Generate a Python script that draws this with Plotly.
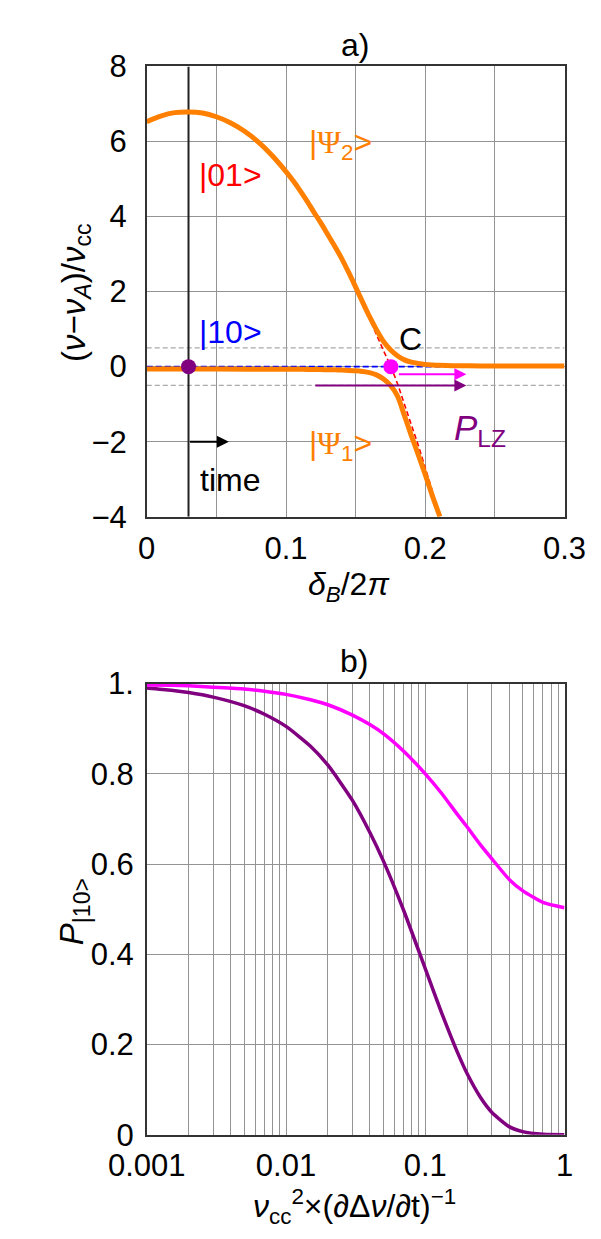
import plotly.graph_objects as go

# ---------------- Panel a data ----------------
psi2_x = [0, 0.01, 0.02, 0.03, 0.04, 0.05, 0.06, 0.07, 0.08, 0.09, 0.10, 0.105, 0.11, 0.115,
          0.12, 0.125, 0.13, 0.135, 0.14, 0.145, 0.15, 0.155, 0.16, 0.165, 0.17, 0.175, 0.18,
          0.185, 0.19, 0.195, 0.20, 0.205, 0.21, 0.22, 0.24, 0.27, 0.30]
psi2_y = [6.53, 6.68, 6.77, 6.79, 6.76, 6.66, 6.50, 6.28, 5.99, 5.63, 5.20, 4.96, 4.70, 4.42,
          4.12, 3.83, 3.52, 3.21, 2.88, 2.51, 2.12, 1.72, 1.33, 0.98, 0.67, 0.45, 0.29,
          0.18, 0.12, 0.085, 0.06, 0.045, 0.035, 0.025, 0.02, 0.02, 0.02]

psi1_x = [0, 0.05, 0.10, 0.105, 0.11, 0.115, 0.12, 0.125, 0.13, 0.135, 0.14, 0.145, 0.15,
          0.155, 0.16, 0.165, 0.17, 0.175, 0.18, 0.185, 0.19, 0.195, 0.20, 0.205, 0.2105]
psi1_y = [-0.06, -0.065, -0.07, -0.07, -0.072, -0.074, -0.076, -0.079, -0.082, -0.086, -0.092,
          -0.10, -0.11, -0.13, -0.16, -0.22, -0.33, -0.50, -0.78, -1.30, -1.84, -2.35, -2.88,
          -3.43, -4.0]

state01_x = [0.145, 0.15, 0.155, 0.16, 0.165, 0.17, 0.175, 0.18, 0.185, 0.19, 0.195, 0.20,
             0.205]
state01_y = [2.55, 2.15, 1.72, 1.28, 0.85, 0.43, 0.02, -0.45, -1.00, -1.55, -2.10, -2.70,
             -3.30]

state10_x = [0, 0.232]
state10_y = [0, 0]

band_x = [0, 0.3]
band_hi = [0.5, 0.5]
band_lo = [-0.5, -0.5]

t0_x = [0.03, 0.03]
t0_y = [-4, 8]

start_pt = (0.03, 0.0)
cross_pt = (0.1753, 0.0)

# arrows: (x_tail, x_head, y)
arrow_magenta = (0.18, 0.2295, -0.2)
arrow_purple = (0.12, 0.2295, -0.5)
arrow_time = (0.03, 0.059, -2.0)

# ---------------- Panel b data ----------------
pb_x = [0.001, 0.0015, 0.002, 0.003, 0.005, 0.007, 0.01, 0.015, 0.02, 0.03, 0.04, 0.05,
        0.07, 0.1, 0.13, 0.17, 0.2, 0.25, 0.3, 0.4, 0.5, 0.7, 1.0]
mag_y = [0.997, 0.996, 0.995, 0.992, 0.988, 0.983, 0.976, 0.964, 0.953, 0.930, 0.909, 0.889,
         0.850, 0.800, 0.758, 0.710, 0.682, 0.642, 0.612, 0.566, 0.541, 0.515, 0.503]
pur_y = [0.990, 0.985, 0.980, 0.970, 0.951, 0.932, 0.905, 0.861, 0.819, 0.741, 0.670, 0.607,
         0.497, 0.368, 0.273, 0.183, 0.135, 0.082, 0.050, 0.018, 0.007, 0.001, 0.0]

ORANGE = "rgb(255,128,0)"
PURPLE = "rgb(128,0,128)"
MAGENTA = "rgb(255,0,255)"
FONT = "Liberation Sans, Arial, sans-serif"
W, H = 601, 1239

fig = go.Figure()

# panel a traces
for yy in (band_hi, band_lo):
    fig.add_trace(go.Scatter(x=band_x, y=yy, mode="lines", xaxis="x", yaxis="y",
                             line=dict(color="#a8a8a8", width=1.2, dash="5px,3px")))
fig.add_trace(go.Scatter(x=t0_x, y=t0_y, mode="lines", xaxis="x", yaxis="y",
                         line=dict(color="#222222", width=2)))
fig.add_trace(go.Scatter(x=state10_x, y=state10_y, mode="lines", xaxis="x", yaxis="y",
                         line=dict(color="blue", width=1.8, dash="6px,3px")))
fig.add_trace(go.Scatter(x=state01_x, y=state01_y, mode="lines", xaxis="x", yaxis="y",
                         line=dict(color="red", width=1.6, dash="5px,3px", shape="spline")))
fig.add_trace(go.Scatter(x=psi2_x, y=psi2_y, mode="lines", xaxis="x", yaxis="y",
                         line=dict(color=ORANGE, width=5, shape="spline", smoothing=0.8)))
fig.add_trace(go.Scatter(x=psi1_x, y=psi1_y, mode="lines", xaxis="x", yaxis="y",
                         line=dict(color=ORANGE, width=5, shape="spline", smoothing=0.8)))
fig.add_trace(go.Scatter(x=[start_pt[0]], y=[start_pt[1]], mode="markers", xaxis="x", yaxis="y",
                         marker=dict(color=PURPLE, size=15)))
fig.add_trace(go.Scatter(x=[cross_pt[0]], y=[cross_pt[1]], mode="markers", xaxis="x", yaxis="y",
                         marker=dict(color=MAGENTA, size=15)))

# panel b traces
fig.add_trace(go.Scatter(x=pb_x, y=pur_y, mode="lines", xaxis="x2", yaxis="y2",
                         line=dict(color=PURPLE, width=3.5, shape="spline", smoothing=0.6)))
fig.add_trace(go.Scatter(x=pb_x, y=mag_y, mode="lines", xaxis="x2", yaxis="y2",
                         line=dict(color=MAGENTA, width=3.5, shape="spline", smoothing=0.6)))

GRID = "#939393"
xdom = [111 / W, 576 / W]
ydom_a = [1 - 506 / H, 1 - 42.7 / H]
ydom_b = [1 - 1142 / H, 1 - 677.7 / H]

axis_common = dict(showline=True, mirror=True, linecolor="#333333", linewidth=1.5,
                   gridcolor=GRID, gridwidth=1, zeroline=False, ticks="",
                   tickfont=dict(family=FONT, size=31, color="black"))

minor_b = []
for d in [0.001, 0.01, 0.1]:
    for k in range(2, 10):
        minor_b.append(round(k * d, 6))

fig.update_layout(
    width=W, height=H, showlegend=False,
    paper_bgcolor="white", plot_bgcolor="white",
    margin=dict(l=0, r=0, t=0, b=0),
    xaxis=dict(domain=xdom, anchor="y", range=[0, 0.3], tickvals=[0, 0.1, 0.2, 0.3],
               ticktext=["0", "0.1", "0.2", "0.3"], ticklabelstandoff=3,
               minor=dict(tickvals=[0.05, 0.15, 0.25], showgrid=True, gridcolor=GRID,
                          gridwidth=1, ticks=""),
               **axis_common),
    yaxis=dict(domain=ydom_a, anchor="x", range=[-4, 8], tickvals=[-4, -2, 0, 2, 4, 6, 8],
               ticklabelstandoff=12, **axis_common),
    xaxis2=dict(domain=xdom, anchor="y2", type="log", range=[-3, 0],
                tickvals=[0.001, 0.01, 0.1, 1], ticktext=["0.001", "0.01", "0.1", "1"],
                ticklabelstandoff=2,
                minor=dict(tickvals=minor_b, showgrid=True, gridcolor=GRID, gridwidth=1,
                           ticks=""),
                **axis_common),
    yaxis2=dict(domain=ydom_b, anchor="x2", range=[0, 1.0],
                tickvals=[0, 0.2, 0.4, 0.6, 0.8, 1.0],
                ticktext=["0", "0.2", "0.4", "0.6", "0.8", "1."],
                ticklabelstandoff=5, **axis_common),
)

ann = []


def paper_text(px, py, text, size=31, angle=0):
    ann.append(dict(x=px / W, y=1 - py / H, xref="paper", yref="paper", text=text,
                    showarrow=False, textangle=angle, xanchor="center", yanchor="middle",
                    font=dict(family=FONT, size=size, color="black")))


def data_text(x, y, text, color, size=32, xa="x", ya="y"):
    ann.append(dict(x=x, y=y, xref=xa, yref=ya, text=text, showarrow=False,
                    xanchor="center", yanchor="middle",
                    font=dict(family=FONT, size=size, color=color)))


paper_text(343, 21, "a)", size=32)
paper_text(342, 655, "b)", size=32)
paper_text(336, 578, "<i>δ<sub>B</sub></i>/2<i>π</i>", size=32)
paper_text(342, 1216, "<i>ν</i><sub>cc</sub><sup>2</sup>×(∂Δ<i>ν</i>/∂t)<sup>−1</sup>", size=32)
paper_text(32, 276, "(<i>ν</i>−<i>ν<sub>A</sub></i>)/<i>ν</i><sub>cc</sub>", angle=-90, size=33)
paper_text(30, 912, "<i>P</i><sub>|10&gt;</sub>", angle=-90, size=33)

data_text(0.060, 5.12, "|01&gt;", "red")
data_text(0.139, 5.93, "|<span style='font-family:Liberation Serif'>Ψ</span><sub>2</sub>&gt;", ORANGE)
data_text(0.060, 0.92, "|10&gt;", "blue")
data_text(0.1897, 0.73, "C", "black")
data_text(0.139, -2.09, "|<span style='font-family:Liberation Serif'>Ψ</span><sub>1</sub>&gt;", ORANGE)
data_text(0.2395, -1.70, "<i>P</i><sub>LZ</sub>", PURPLE, size=35)
data_text(0.0598, -3.03, "time", "black")

for (xt, xh, yv), col in [(arrow_magenta, MAGENTA), (arrow_purple, PURPLE),
                          (arrow_time, "black")]:
    ann.append(dict(x=xh, y=yv, ax=xt, ay=yv, xref="x", yref="y", axref="x", ayref="y",
                    text="", showarrow=True, arrowhead=2, arrowsize=1.2, arrowwidth=2,
                    arrowcolor=col))

fig.update_layout(annotations=ann)
fig.write_html("out.html")
